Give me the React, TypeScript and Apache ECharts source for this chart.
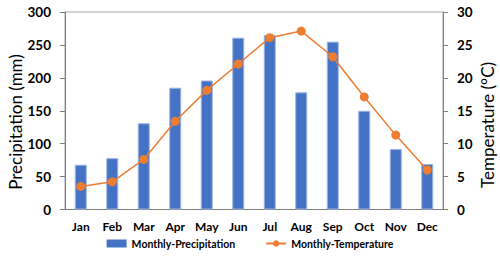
import React, { useEffect, useRef } from "react";
import * as echarts from "echarts";

const months = ["Jan", "Feb", "Mar", "Apr", "May", "Jun", "Jul", "Aug", "Sep", "Oct", "Nov", "Dec"];
const precipitation = [68, 78, 131, 185, 196, 261, 265, 178, 255, 150, 92, 69];
const temperature = [3.5, 4.2, 7.6, 13.4, 18.1, 22.1, 26.1, 27.1, 23.2, 17.1, 11.3, 6.0];
const precipName = "Monthly-Precipitation";
const tempName = "Monthly-Temperature";
const leftAxisTitle = "Precipitation (mm)";
const rightAxisTitle = "Temperature (°C)";

const FONT = "Lato";

export default function App() {
  const ref = useRef<HTMLDivElement>(null);
  useEffect(() => {
    const chart = echarts.init(ref.current!, null, { renderer: "svg" });
    const axisLineColor = "#7f7f7f";
    chart.setOption({
      animation: false,
      backgroundColor: "#ffffff",
      grid: {
        left: 65,
        right: 57,
        top: 12,
        bottom: 49.5,
        show: true,
        borderColor: "#a6a6a6",
        borderWidth: 1,
      },
      legend: {
        bottom: 5,
        left: "center",
        itemGap: 30,
        textStyle: { fontFamily: FONT, fontWeight: "bold", fontSize: 10.5, color: "#000" },
        data: [
          { name: precipName, icon: "rect", itemStyle: { borderWidth: 0 } },
          { name: tempName },
        ],
        itemWidth: 20,
        itemHeight: 8,
      },
      xAxis: {
        type: "category",
        data: months,
        axisLine: { show: true, lineStyle: { color: axisLineColor, width: 1 } },
        axisTick: { show: false },
        axisLabel: { fontFamily: FONT, fontWeight: "bold", fontSize: 12, color: "#000", margin: 11 },
      },
      yAxis: [
        {
          type: "value",
          min: 0,
          max: 300,
          interval: 50,
          splitLine: { show: false },
          axisLine: { show: true, lineStyle: { color: axisLineColor, width: 1 } },
          axisTick: { show: true, length: 5, lineStyle: { color: axisLineColor } },
          axisLabel: { fontFamily: FONT, fontWeight: "bold", fontSize: 13.5, color: "#000", margin: 14 },
        },
        {
          type: "value",
          min: 0,
          max: 30,
          interval: 5,
          position: "right",
          splitLine: { show: false },
          axisLine: { show: true, lineStyle: { color: axisLineColor, width: 1 } },
          axisTick: { show: true, length: 5, lineStyle: { color: axisLineColor } },
          axisLabel: { fontFamily: FONT, fontWeight: "bold", fontSize: 13.5, color: "#000", margin: 14 },
        },
      ],
      series: [
        {
          name: precipName,
          type: "bar",
          data: precipitation,
          yAxisIndex: 0,
          barWidth: 12,
          itemStyle: { color: "#4472C4", borderColor: "#9DB5E3", borderWidth: 1 },
        },
        {
          name: tempName,
          type: "line",
          data: temperature,
          yAxisIndex: 1,
          symbol: "circle",
          symbolSize: 9,
          lineStyle: { color: "#ED7D31", width: 1.5 },
          itemStyle: { color: "#ED7D31" },
        },
      ],
      graphic: [
        {
          type: "text",
          x: 15,
          y: 122,
          rotation: Math.PI / 2,
          style: {
            text: leftAxisTitle,
            fontFamily: FONT,
            fontSize: 17,
            fill: "#000",
            align: "center",
            verticalAlign: "middle",
          },
        },
        {
          type: "text",
          x: 487,
          y: 125,
          rotation: Math.PI / 2,
          style: {
            text: rightAxisTitle,
            fontFamily: FONT,
            fontSize: 17,
            fill: "#000",
            align: "center",
            verticalAlign: "middle",
          },
        },
      ],
    });
    return () => chart.dispose();
  }, []);
  return <div ref={ref} style={{ width: 500, height: 259, position: "absolute", left: 0, top: 0 }} />;
}
